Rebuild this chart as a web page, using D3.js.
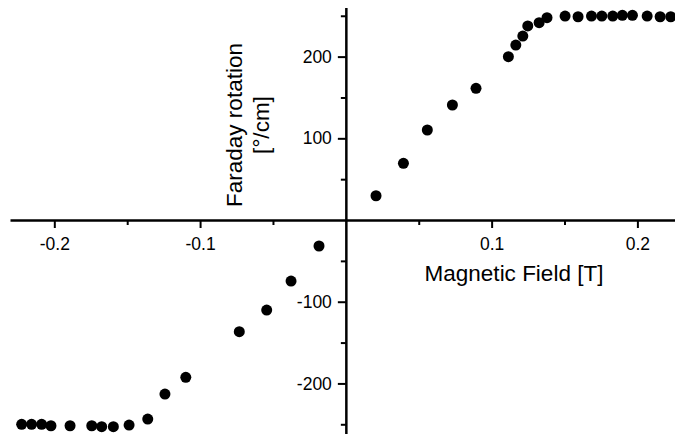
<!DOCTYPE html>
<html>
<head>
<meta charset="utf-8">
<script src="https://cdn.jsdelivr.net/npm/d3@7"></script>
<style>
  html, body { margin: 0; padding: 0; background: #fff; }
  svg { display: block; font-family: "Liberation Sans", Arial, sans-serif; }
</style>
</head>
<body>
<svg id="chart" width="675" height="434"></svg>
<script>
// Data: magnetic field [T] and Faraday rotation [°/cm]
const fieldT = [
  -0.2224, -0.2156, -0.2087, -0.2023, -0.1892, -0.1743, -0.1675, -0.1595,
  -0.1487, -0.1359, -0.1241, -0.1098, -0.0731, -0.0543, -0.0376, -0.0184,
  0.0207, 0.0395, 0.0559, 0.0731, 0.0893, 0.1115, 0.1166, 0.1214, 0.1248,
  0.1326, 0.1380, 0.1504, 0.1593, 0.1685, 0.1756, 0.1831, 0.1897, 0.1966,
  0.2067, 0.2156, 0.2229
];
const rotation = [
  -250.1, -250.1, -250.1, -251.8, -251.8, -251.8, -253.0, -253.0,
  -250.9, -243.6, -213.0, -192.5, -136.7, -110.2, -74.7, -31.8,
  29.7, 69.4, 110.2, 140.8, 161.2, 199.9, 214.2, 225.2, 237.5,
  241.5, 247.6, 249.7, 248.8, 249.7, 249.7, 249.7, 250.6, 250.6,
  249.7, 248.8, 248.8
];
const xMajorTicks = [-0.2, -0.1, 0.1, 0.2];
const xTickLabels = ["-0.2", "-0.1", "0.1", "0.2"];
const xMinorTicks = [-0.15, -0.05, 0.05, 0.15];
const yMajorTicks = [-200, -100, 100, 200];
const yTickLabels = ["-200", "-100", "100", "200"];
const yMinorTicks = [-250, -150, -50, 50, 150, 250];
const xTitle = "Magnetic Field [T]";
const yTitleLines = ["Faraday rotation", "[°/cm]"];

const svg = d3.select("#chart");
const x = d3.scaleLinear().domain([-0.2304, 0.2258]).range([10, 675]);
const y = d3.scaleLinear().domain([-263, 260]).range([434.9, 7.6]);

const fontTick = 17.5;
const fontTitle = 22.5;

// X axis (major)
const gx = svg.append("g").attr("transform", `translate(0,${y(0)})`);
gx.call(d3.axisBottom(x).tickValues(xMajorTicks)
  .tickFormat((d, i) => xTickLabels[i]).tickSize(8).tickSizeOuter(0).tickPadding(10));
gx.select(".domain").attr("stroke", "#000").attr("stroke-width", 2.5);
gx.selectAll(".tick line").attr("stroke", "#000").attr("stroke-width", 2);
gx.selectAll(".tick text").attr("font-size", fontTick).attr("font-family", null).attr("fill", "#000");
// X minor
const gxm = svg.append("g").attr("transform", `translate(0,${y(0)})`);
gxm.call(d3.axisBottom(x).tickValues(xMinorTicks).tickFormat("").tickSize(5).tickSizeOuter(0));
gxm.select(".domain").remove();
gxm.selectAll(".tick line").attr("stroke", "#000").attr("stroke-width", 2);

// Y axis (major)
const gy = svg.append("g").attr("transform", `translate(${x(0)},0)`);
gy.call(d3.axisLeft(y).tickValues(yMajorTicks)
  .tickFormat((d, i) => yTickLabels[i]).tickSize(8).tickSizeOuter(0).tickPadding(6));
gy.select(".domain").attr("stroke", "#000").attr("stroke-width", 2.5);
gy.selectAll(".tick line").attr("stroke", "#000").attr("stroke-width", 2);
gy.selectAll(".tick text").attr("font-size", fontTick).attr("font-family", null).attr("fill", "#000");
// Y minor
const gym = svg.append("g").attr("transform", `translate(${x(0)},0)`);
gym.call(d3.axisLeft(y).tickValues(yMinorTicks).tickFormat("").tickSize(5).tickSizeOuter(0));
gym.select(".domain").remove();
gym.selectAll(".tick line").attr("stroke", "#000").attr("stroke-width", 2);

// Axis titles
svg.append("text")
  .attr("x", 514).attr("y", 281)
  .attr("text-anchor", "middle")
  .attr("font-size", fontTitle)
  .attr("fill", "#000")
  .text(xTitle);

const yTitleX = [242, 269];
yTitleLines.forEach((line, i) => {
  svg.append("text")
    .attr("transform", `translate(${yTitleX[i]},125) rotate(-90)`)
    .attr("text-anchor", "middle")
    .attr("font-size", fontTitle)
    .attr("fill", "#000")
    .text(line);
});

// Points
svg.append("g").selectAll("circle")
  .data(fieldT.map((f, i) => ({ f, r: rotation[i] })))
  .join("circle")
  .attr("cx", d => x(d.f))
  .attr("cy", d => y(d.r))
  .attr("r", 5.5)
  .attr("fill", "#000");
</script>
</body>
</html>
